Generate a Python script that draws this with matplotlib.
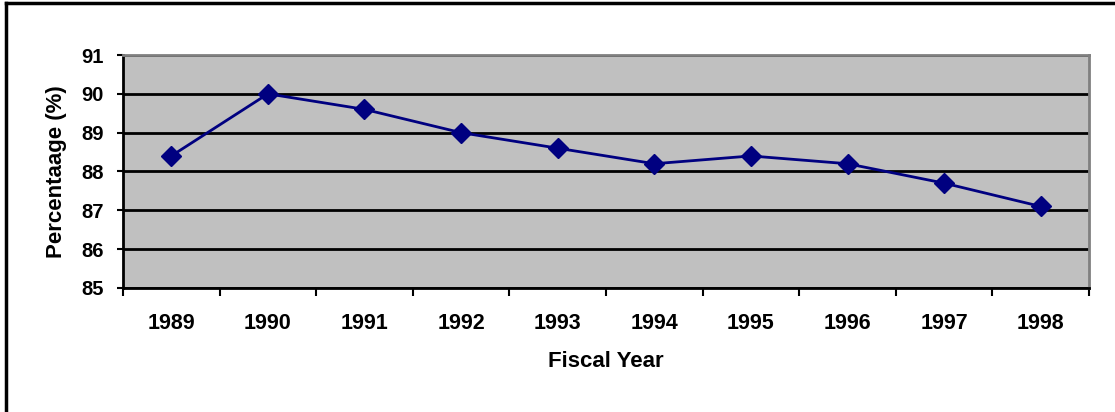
import matplotlib
matplotlib.use("Agg")
import matplotlib.pyplot as plt
from matplotlib.lines import Line2D

years = ["1989", "1990", "1991", "1992", "1993", "1994", "1995", "1996", "1997", "1998"]
pct = [88.4, 90.0, 89.6, 89.0, 88.6, 88.2, 88.4, 88.2, 87.7, 87.1]

plt.rcParams['font.family'] = ['Liberation Sans', 'DejaVu Sans']
plt.rcParams['font.weight'] = 'bold'

fig = plt.figure(figsize=(11.15, 4.12), dpi=100)
ax = fig.add_axes([0.1103, 0.301, 0.8664, 0.5655])
ax.set_facecolor('#C0C0C0')

x = list(range(len(years)))
ax.plot(x, pct, color='#000080', lw=2, marker='D', markersize=10, zorder=3)

ax.set_xlim(-0.5, len(years) - 0.5)
ax.set_ylim(85, 91)
ax.set_yticks(range(85, 92))
ax.grid(axis='y', color='black', lw=2)
ax.set_axisbelow(True)

# category boundaries get ticks, labels sit at the centres
ax.set_xticks([i - 0.5 for i in range(len(years) + 1)])
ax.set_xticklabels([])
ax.set_xticks(x, minor=True)
ax.set_xticklabels(years, minor=True, fontsize=15.5, fontweight='bold')
ax.tick_params(axis='x', which='major', length=6, width=1.5, direction='out')
ax.tick_params(axis='x', which='minor', length=0, pad=18)
ax.tick_params(axis='y', length=4, width=1.5, pad=10, labelsize=14.5)

for s in ['left', 'bottom']:
    ax.spines[s].set_color('black')
    ax.spines[s].set_linewidth(2)
for s in ['top', 'right']:
    ax.spines[s].set_color('#808080')
    ax.spines[s].set_linewidth(2)

ax.set_xlabel('Fiscal Year', fontsize=16, fontweight='bold', labelpad=12)
ax.set_ylabel('Percentaage (%)', fontsize=16, fontweight='bold', labelpad=10)

# outer frame (left and top only visible in the original crop)
fig.add_artist(Line2D([0.005, 0.005], [0, 0.992], transform=fig.transFigure, color='black', lw=2.5))
fig.add_artist(Line2D([0.005, 1.0], [0.992, 0.992], transform=fig.transFigure, color='black', lw=2.5))

fig.savefig('out.png', dpi=100)
